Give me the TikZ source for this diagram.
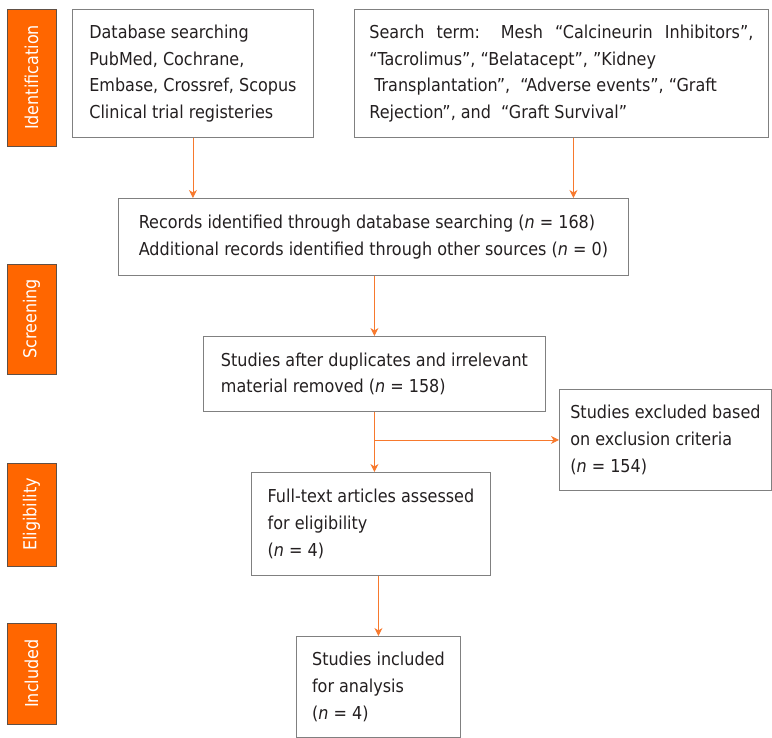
\documentclass[tikz,border=0pt]{standalone}
\usepackage{fontspec}
\setmainfont{DejaVu Sans Condensed}[ItalicFont={DejaVu Sans Condensed Oblique}]
\usetikzlibrary{arrows.meta}
\definecolor{labelorange}{RGB}{255,102,0}
\definecolor{labeledge}{RGB}{96,80,70}
\definecolor{boxedge}{RGB}{128,128,128}
\definecolor{arroworange}{RGB}{247,121,45}
\definecolor{textdark}{RGB}{35,31,32}
\tikzset{
	stagelabel/.style={draw=labeledge, line width=0.9pt, fill=labelorange, text=white, rotate=90, inner sep=0pt, font=\fontsize{17.8}{20}\selectfont},
	flowbox/.style={draw=boxedge, line width=0.9pt, text=textdark, align=left, anchor=north west, inner sep=0pt, font=\fontsize{17.8}{26.7}\selectfont},
	flowarrow/.style={draw=arroworange, line width=0.9pt, -{Stealth[length=8pt,width=8pt,inset=2.5pt]}}
}

\begin{document}
\begin{tikzpicture}[x=1pt,y=-1pt]
			%%%%% START %%%%%
			\useasboundingbox (0,0) rectangle (772,738);
			
			\node[stagelabel, minimum width=137pt, minimum height=49pt] (identlabel) at (31.5, 77.5) {Identification};
			\node[stagelabel, minimum width=110pt, minimum height=49pt] (screenlabel) at (31.5, 319) {Screening};
			\node[stagelabel, minimum width=103pt, minimum height=49pt] (eliglabel) at (31.5, 514.5) {Eligibility};
			\node[stagelabel, minimum width=101pt, minimum height=49pt] (incllabel) at (31.5, 673.5) {Included};
			
			\node[flowbox, minimum width=241pt, minimum height=128pt] (dbsearch) at (72, 9) {Database searching\\PubMed, Cochrane,\\Embase, Crossref, Scopus\\Clinical trial registeries};
			\node[flowbox, minimum width=414pt, minimum height=128pt] (termsearch) at (354, 9) {\makebox[384pt][s]{Search term: Mesh “Calcineurin Inhibitors”,}\\“Tacrolimus”, “Belatacept”, ”Kidney\\\hspace*{5pt}Transplantation”,\ \ “Adverse events”, “Graft\\Rejection”, and\ \ “Graft Survival”};
			
			\node[flowbox, minimum width=510pt, minimum height=77pt] (records) at (118, 198) {Records identified through database searching (\textit{n} = 168)\\Additional records identified through other sources (\textit{n} = 0)};
			\node[flowbox, minimum width=342pt, minimum height=75pt] (screened) at (203, 336) {Studies after duplicates and irrelevant\\material removed (\textit{n} = 158)};
			\node[flowbox, minimum width=212pt, minimum height=101pt] (excluded) at (559, 389) {Studies excluded based\\on exclusion criteria\\(\textit{n} = 154)\hspace*{60pt}};
			\node[flowbox, minimum width=239pt, minimum height=103pt] (fulltext) at (251, 472) {Full-text articles assessed\\for eligibility\\(\textit{n} = 4)};
			\node[flowbox, minimum width=164pt, minimum height=101pt] (included) at (296, 636) {Studies included\\for analysis\\(\textit{n} = 4)};
			
			\draw[flowarrow] (dbsearch.south) -- (dbsearch.south |- records.north);
			\draw[flowarrow] ([xshift=12pt]termsearch.south) -- ([xshift=12pt]termsearch.south |- records.north);
			\draw[flowarrow] (screened.north |- records.south) -- (screened.north);
			\draw[flowarrow] (screened.south) -- (screened.south |- fulltext.north);
			\draw[flowarrow] (screened.south |- excluded.west) -- (excluded.west);
			\draw[flowarrow] (included.north |- fulltext.south) -- (included.north);
			
			%%%%% END %%%%%
\end{tikzpicture}
\end{document}
